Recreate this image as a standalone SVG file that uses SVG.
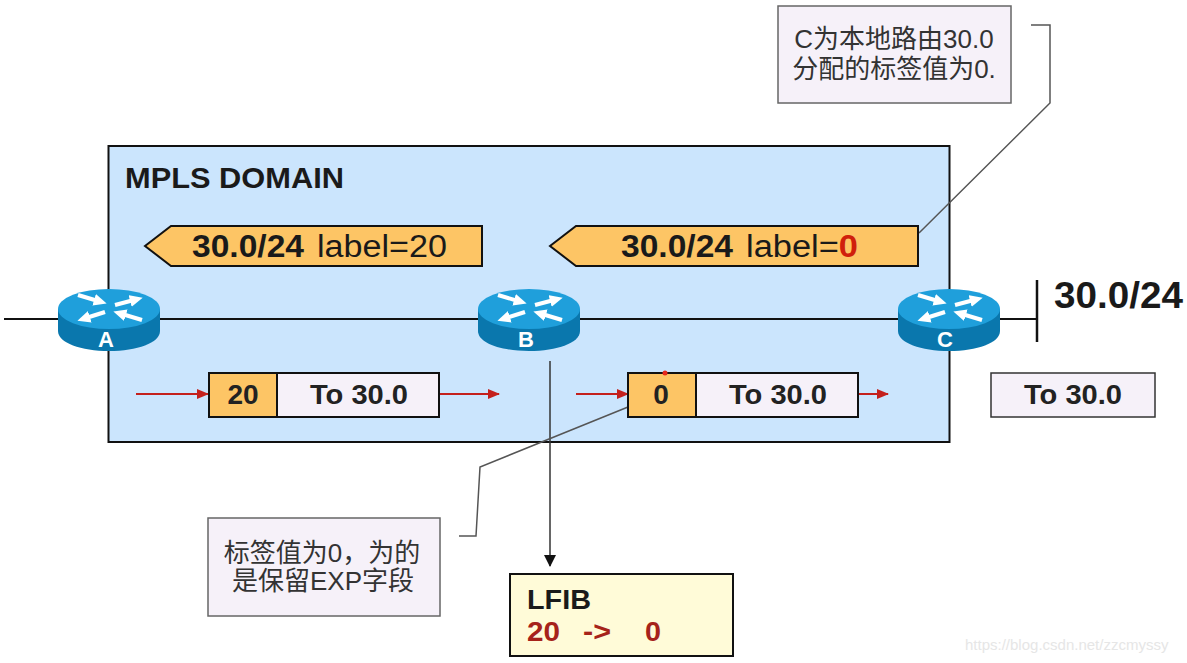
<svg xmlns="http://www.w3.org/2000/svg" width="1187" height="663" viewBox="0 0 1187 663">
<style>
text{font-family:"Liberation Sans","Noto Sans CJK SC",sans-serif}
.b{font-weight:bold;fill:#1a1a1a}
.lbl{font-size:31px;fill:#1a1a1a}
.pk{font-size:28px;font-weight:bold;fill:#222;text-anchor:middle}
.note{font-size:26px;fill:#333;text-anchor:middle}
.cell{stroke:#111;stroke-width:2}
.org{fill:#fdc565}
.lil{fill:#f6f1f9}
.nt{fill:#f6f1f9;stroke:#666;stroke-width:1.5}
.call{fill:none;stroke:#555;stroke-width:1.5}
.red{stroke:#c4201c;stroke-width:2;fill:none;marker-end:url(#ra)}
.rlab{font-size:22px;font-weight:bold;fill:#fff;text-anchor:middle}
.ar{fill:none;stroke:#fff;stroke-width:4;marker-end:url(#wa)}
.lf{font-size:28px;font-weight:bold;fill:#a6231a}
</style>
<defs>
<marker id="ra" markerWidth="12" markerHeight="10" refX="11" refY="5" orient="auto" markerUnits="userSpaceOnUse"><path d="M0 0L12 5L0 10Z" fill="#c4201c"/></marker>
<marker id="ka" markerWidth="12" markerHeight="12" refX="11" refY="6" orient="auto" markerUnits="userSpaceOnUse"><path d="M0 0L12 6L0 12Z" fill="#111"/></marker>
<marker id="wa" markerWidth="14" markerHeight="12" refX="4" refY="6" orient="auto" markerUnits="userSpaceOnUse"><path d="M0 0L13 6L0 12Z" fill="#fff"/></marker>
<g id="router">
<path d="M-51 -10V12C-51 24 -28 32 0 32C28 32 51 24 51 12V-10Z" fill="#0a77ad"/>
<ellipse cx="0" cy="-10" rx="51" ry="20" fill="#1f9fdb"/>
<path class="ar" d="M-31 -24L-11 -18"/>
<path class="ar" d="M6 -14L25 -19"/>
<path class="ar" d="M-4 -7L-23 -1"/>
<path class="ar" d="M33 1L13 -5"/>
</g>
</defs>
<rect width="1187" height="663" fill="#fff"/>
<g id="domain">
<rect x="108.500" y="146" width="841" height="296" fill="#cbe5fd" stroke="#111" stroke-width="2"/>
<text x="125" y="188" class="b" font-size="30" textLength="219" lengthAdjust="spacingAndGlyphs">MPLS  DOMAIN</text>
</g>
<g id="connectors">
<path d="M4 319H1037" stroke="#111" stroke-width="2" fill="none"/>
<path d="M1037 280V342" stroke="#111" stroke-width="2.500" fill="none"/>
<path class="red" d="M136 394H208"/>
<path class="red" d="M440 394H499"/>
<path class="red" d="M576 394H628"/>
<path class="red" d="M859 394H888"/>
<path d="M550 361V566" stroke="#333" stroke-width="1.500" fill="none" marker-end="url(#ka)"/>
<path class="call" d="M1031 25H1050V103L919 233"/>
<path class="call" d="M628 407L480 467L476 536H459"/>
</g>
<g id="prefix-left">
<path d="M145 246L171 226H482V266H171Z" class="org cell"/>
<text x="192" y="257" class="lbl b" textLength="112" lengthAdjust="spacingAndGlyphs">30.0/24</text>
<text x="317" y="257" class="lbl" textLength="130" lengthAdjust="spacingAndGlyphs">label=20</text>
</g>
<g id="prefix-right">
<path d="M550 246L576 226H918V266H576Z" class="org cell"/>
<text x="621" y="257" class="lbl b" textLength="112" lengthAdjust="spacingAndGlyphs">30.0/24</text>
<text x="746" y="257" class="lbl" textLength="112" lengthAdjust="spacingAndGlyphs">label=<tspan fill="#d0200c" font-weight="bold">0</tspan></text>
</g>
<g id="router-a"><use href="#router" x="109" y="319"/><text x="106" y="347" class="rlab">A</text></g>
<g id="router-b"><use href="#router" x="529" y="319"/><text x="526" y="347" class="rlab">B</text></g>
<g id="router-c"><use href="#router" x="949" y="319"/><text x="945" y="347" class="rlab">C</text></g>
<g id="dest"><text x="1054" y="308" class="b" font-size="36" textLength="129" lengthAdjust="spacingAndGlyphs">30.0/24</text></g>
<g id="packet-1">
<rect x="209" y="373" width="68" height="44" class="org cell"/>
<rect x="277" y="373" width="162" height="44" class="lil cell"/>
<text x="243" y="404" class="pk">20</text>
<text x="359" y="404" class="pk" textLength="98" lengthAdjust="spacingAndGlyphs">To 30.0</text>
</g>
<g id="packet-2">
<rect x="628" y="373" width="68" height="44" class="org cell"/>
<rect x="696" y="373" width="162" height="44" class="lil cell"/>
<text x="661" y="404" class="pk">0</text>
<text x="778" y="404" class="pk" textLength="98" lengthAdjust="spacingAndGlyphs">To 30.0</text>
<circle cx="665" cy="373" r="2.500" fill="#e8291c"/>
</g>
<g id="packet-3">
<rect x="991" y="373" width="164" height="44" class="lil" stroke="#333" stroke-width="1.500"/>
<text x="1073" y="404" class="pk" textLength="98" lengthAdjust="spacingAndGlyphs">To 30.0</text>
</g>
<g id="note-c">
<rect x="778" y="6" width="233" height="97" class="nt"/>
<text x="894" y="48" class="note">C为本地路由30.0</text>
<text x="894" y="78" class="note">分配的标签值为0.</text>
</g>
<g id="note-b">
<rect x="208" y="518" width="232" height="98" class="nt"/>
<text x="322" y="562" class="note">标签值为0，为的</text>
<text x="323" y="590" class="note">是保留EXP字段</text>
</g>
<g id="lfib">
<rect x="510" y="574" width="223" height="82" fill="#fffbd8" stroke="#111" stroke-width="2"/>
<text x="527" y="609" class="b" font-size="28" textLength="64" lengthAdjust="spacingAndGlyphs">LFIB</text>
<text x="527" y="641" class="lf" textLength="33" lengthAdjust="spacingAndGlyphs">20</text>
<text x="583" y="641" class="lf" textLength="28" lengthAdjust="spacingAndGlyphs">-&gt;</text>
<text x="645" y="641" class="lf" textLength="16" lengthAdjust="spacingAndGlyphs">0</text>
</g>
<text x="965" y="650" font-size="15" fill="#e6e6e6" id="watermark">https://blog.csdn.net/zzcmyssy</text>
</svg>
